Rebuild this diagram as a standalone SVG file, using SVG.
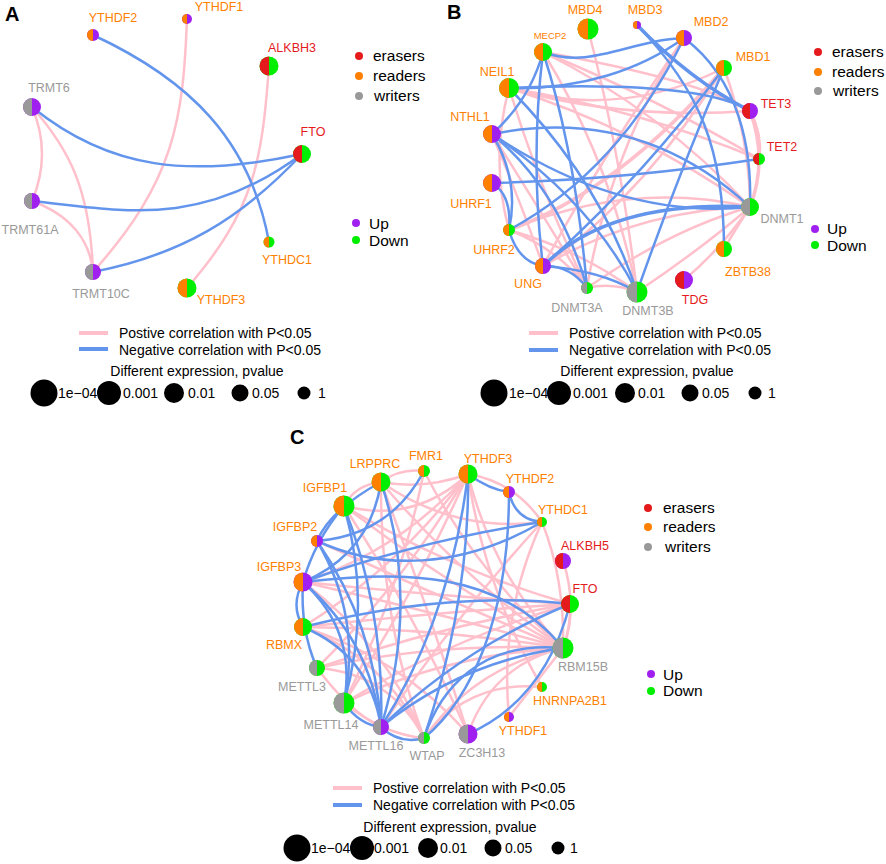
<svg xmlns="http://www.w3.org/2000/svg" width="886" height="864" viewBox="0 0 886 864">
<style>
text{font-family:"Liberation Sans",Arial,sans-serif}
.lb{font-size:12.5px;text-anchor:middle}
.lg{font-size:15.5px;fill:#000}
.ll{font-size:14px;fill:#000}
.pl{font-weight:bold;font-size:20px;fill:#000}
.p{fill:none;stroke:#FFC0CB;stroke-width:2.5}
.n{fill:none;stroke:#6495ED;stroke-width:2.5}
.t{stroke-width:3.5}
.er{fill:#E41A1C}.rd{fill:#FF7F00}.wr{fill:#999999}.up{fill:#A020F0}.dn{fill:#00EE00}
.ter{fill:#E41A1C}.trd{fill:#FF7F00}.twr{fill:#999999}
.bk{fill:#000}
</style>
<rect width="886" height="864" fill="#fff"/>
<text class="pl" x="5" y="21">A</text>
<text class="pl" x="447" y="19">B</text>
<text class="pl" x="290" y="444">C</text>

<!-- ===== Panel A connectors ===== -->
<g id="A-edges">
<path class="p" d="M32,107 Q52,154 32,201"/>
<path class="p" d="M32,107 C70,150 90,190 93,272"/>
<path class="p" d="M32,201 C70,215 90,240 93,272"/>
<path class="p" d="M187,19 C183,120 175,180 93,272"/>
<path class="p" d="M269,66 C262,160 255,210 187,288"/>
<path class="n" d="M93,35 C190,80 250,140 269,242"/>
<path class="n" d="M32,107 C110,170 190,178 302,154"/>
<path class="n" d="M32,201 C120,210 200,230 302,154"/>
<path class="n" d="M93,272 C180,255 240,220 302,154"/>
</g>

<!-- ===== Panel A nodes ===== -->
<g id="A-YTHDF2"><circle cx="93" cy="35" r="6" class="up"/><path class="rd" d="M93,29A6,6 0 0 0 93,41Z"/><text class="lb trd" x="113" y="22">YTHDF2</text></g>
<g id="A-YTHDF1"><circle cx="187" cy="19" r="5" class="up"/><path class="rd" d="M187,14A5,5 0 0 0 187,24Z"/><text class="lb trd" x="219" y="11">YTHDF1</text></g>
<g id="A-ALKBH3"><circle cx="269" cy="66" r="9.5" class="dn"/><path class="er" d="M269,56.5A9.5,9.5 0 0 0 269,75.5Z"/><text class="lb ter" x="292" y="52">ALKBH3</text></g>
<g id="A-TRMT6"><circle cx="32" cy="107" r="9" class="up"/><path class="wr" d="M32,98A9,9 0 0 0 32,116Z"/><text class="lb twr" x="49" y="92">TRMT6</text></g>
<g id="A-FTO"><circle cx="302" cy="154" r="9" class="dn"/><path class="er" d="M302,145A9,9 0 0 0 302,163Z"/><text class="lb ter" x="313" y="136">FTO</text></g>
<g id="A-TRMT61A"><circle cx="32" cy="201" r="8" class="up"/><path class="wr" d="M32,193A8,8 0 0 0 32,209Z"/><text class="lb twr" x="30" y="234">TRMT61A</text></g>
<g id="A-YTHDC1"><circle cx="269" cy="242" r="5.5" class="dn"/><path class="rd" d="M269,236.5A5.5,5.5 0 0 0 269,247.5Z"/><text class="lb trd" x="287" y="264">YTHDC1</text></g>
<g id="A-TRMT10C"><circle cx="93" cy="272" r="8" class="up"/><path class="wr" d="M93,264A8,8 0 0 0 93,280Z"/><text class="lb twr" x="101" y="298">TRMT10C</text></g>
<g id="A-YTHDF3"><circle cx="187" cy="288" r="9.5" class="dn"/><path class="rd" d="M187,278.5A9.5,9.5 0 0 0 187,297.5Z"/><text class="lb trd" x="221" y="304">YTHDF3</text></g>

<!-- ===== Panel A legends ===== -->
<g id="A-legend">
<circle cx="359" cy="56" r="4" class="er"/><text class="lg" x="373" y="61">erasers</text>
<circle cx="359" cy="76" r="4" class="rd"/><text class="lg" x="373" y="81">readers</text>
<circle cx="359" cy="96" r="4" class="wr"/><text class="lg" x="374" y="101">writers</text>
<circle cx="356" cy="223" r="4" class="up"/><text class="lg" x="369" y="229">Up</text>
<circle cx="356" cy="240" r="4" class="dn"/><text class="lg" x="369" y="246">Down</text>
<line x1="79" y1="333" x2="108" y2="333" stroke="#FFC0CB" stroke-width="4"/><text class="ll" x="119" y="338">Postive correlation with P&lt;0.05</text>
<line x1="79" y1="349" x2="108" y2="349" stroke="#6495ED" stroke-width="4"/><text class="ll" x="119" y="355">Negative correlation with P&lt;0.05</text>
<text class="ll" x="197" y="376" text-anchor="middle">Different expression, pvalue</text>
<circle cx="44" cy="393" r="13.5" class="bk"/><text class="ll" x="58" y="398">1e−04</text>
<circle cx="109" cy="393" r="12" class="bk"/><text class="ll" x="123" y="398">0.001</text>
<circle cx="174" cy="393" r="10" class="bk"/><text class="ll" x="188" y="398">0.01</text>
<circle cx="240" cy="393" r="8.5" class="bk"/><text class="ll" x="252" y="398">0.05</text>
<circle cx="304" cy="393" r="6.5" class="bk"/><text class="ll" x="318" y="398">1</text>
</g>

<!-- ===== Panel B connectors ===== -->
<g id="B-edges">
<path class="p" d="M588,29 Q620,150 637,292"/>
<path class="p" d="M543,52 Q660,110 750,207"/>
<path class="p" d="M543,52 Q660,100 759,159"/>
<path class="p" d="M543,52 Q610,160 637,292"/>
<path class="p" d="M509,88 Q620,120 750,111"/>
<path class="p" d="M509,88 Q620,120 724,68"/>
<path class="p" d="M509,88 Q640,130 750,207"/>
<path class="p" d="M509,88 Q540,190 587,288"/>
<path class="p" d="M509,88 Q490,160 509,230"/>
<path class="p" d="M509,88 Q640,110 759,159"/>
<path class="p" d="M492,134 Q520,200 543,266"/>
<path class="p" d="M492,134 Q540,210 587,288"/>
<path class="p" d="M684,38 Q610,150 587,288"/>
<path class="p" d="M684,38 Q600,160 543,266"/>
<path class="p t" d="M724,68 Q620,190 509,230"/>
<path class="p" d="M724,68 Q640,200 543,266"/>
<path class="p" d="M724,68 Q750,140 750,207"/>
<path class="p t" d="M750,111 Q762,135 759,159"/>
<path class="p t" d="M750,111 Q768,160 750,207"/>
<path class="p" d="M750,207 Q630,180 509,230"/>
<path class="p" d="M750,207 Q640,210 543,266"/>
<path class="p" d="M750,207 Q670,230 587,288"/>
<path class="p" d="M750,207 Q700,250 637,292"/>
<path class="p" d="M750,207 Q720,250 684,280"/>
<path class="p" d="M750,207 Q735,230 724,249"/>
<path class="p" d="M587,288 Q612,282 637,292"/>
<path class="p" d="M509,230 Q560,250 587,288"/>
<path class="p" d="M509,230 Q580,250 637,292"/>
<path class="p" d="M543,52 Q700,80 750,111"/>
<path class="n" d="M543,52 C590,70 630,40 684,38"/>
<path class="n" d="M509,88 C580,90 640,70 684,38"/>
<path class="n t" d="M637,25 Q690,80 750,111"/>
<path class="n" d="M637,25 C700,90 724,150 724,249"/>
<path class="n" d="M684,38 C740,80 752,150 750,207"/>
<path class="n" d="M684,38 Q620,170 509,230"/>
<path class="n" d="M724,68 Q680,170 637,292"/>
<path class="n" d="M724,68 Q640,180 543,266"/>
<path class="n" d="M543,52 Q530,100 492,134"/>
<path class="n" d="M543,52 Q575,150 587,288"/>
<path class="n" d="M543,52 Q530,160 543,266"/>
<path class="n" d="M509,88 Q600,180 637,292"/>
<path class="n" d="M492,134 Q640,105 750,207"/>
<path class="n" d="M492,183 Q620,180 759,159"/>
<path class="n" d="M492,134 Q560,190 587,288"/>
<path class="n" d="M492,134 Q520,180 509,230"/>
<path class="n" d="M492,134 Q590,200 637,292"/>
<path class="n" d="M492,134 Q620,220 750,207"/>
<path class="n" d="M492,183 Q512,195 509,230"/>
<path class="n t" d="M543,266 Q610,200 750,207"/>
<path class="n" d="M509,230 Q518,262 543,266"/>
<path class="n" d="M543,266 Q570,265 587,288"/>
<path class="n" d="M543,266 Q600,270 637,292"/>
<path class="n" d="M509,88 Q700,80 750,111"/>
</g>

<!-- ===== Panel B nodes ===== -->
<g id="B-MBD4"><circle cx="588" cy="29" r="10.5" class="dn"/><path class="rd" d="M588,18.5A10.5,10.5 0 0 0 588,39.5Z"/><text class="lb trd" x="585" y="14">MBD4</text></g>
<g id="B-MBD3"><circle cx="637" cy="25" r="4" class="up"/><path class="rd" d="M637,21A4,4 0 0 0 637,29Z"/><text class="lb trd" x="645" y="14">MBD3</text></g>
<g id="B-MBD2"><circle cx="684" cy="38" r="8" class="up"/><path class="rd" d="M684,30A8,8 0 0 0 684,46Z"/><text class="lb trd" x="711" y="26">MBD2</text></g>
<g id="B-MECP2"><circle cx="543" cy="52" r="9" class="dn"/><path class="rd" d="M543,43A9,9 0 0 0 543,61Z"/><text class="lb trd" x="550" y="39" style="font-size:9.5px">MECP2</text></g>
<g id="B-MBD1"><circle cx="724" cy="68" r="8" class="dn"/><path class="rd" d="M724,60A8,8 0 0 0 724,76Z"/><text class="lb trd" x="753" y="61">MBD1</text></g>
<g id="B-NEIL1"><circle cx="509" cy="88" r="10" class="dn"/><path class="rd" d="M509,78A10,10 0 0 0 509,98Z"/><text class="lb trd" x="497" y="76">NEIL1</text></g>
<g id="B-TET3"><circle cx="750" cy="111" r="8" class="up"/><path class="er" d="M750,103A8,8 0 0 0 750,119Z"/><text class="lb ter" x="776" y="108">TET3</text></g>
<g id="B-NTHL1"><circle cx="492" cy="134" r="9" class="up"/><path class="rd" d="M492,125A9,9 0 0 0 492,143Z"/><text class="lb trd" x="470" y="121">NTHL1</text></g>
<g id="B-TET2"><circle cx="759" cy="159" r="6" class="dn"/><path class="er" d="M759,153A6,6 0 0 0 759,165Z"/><text class="lb ter" x="782" y="151">TET2</text></g>
<g id="B-UHRF1"><circle cx="492" cy="183" r="9" class="up"/><path class="rd" d="M492,174A9,9 0 0 0 492,192Z"/><text class="lb trd" x="471" y="208">UHRF1</text></g>
<g id="B-DNMT1"><circle cx="750" cy="207" r="9" class="dn"/><path class="wr" d="M750,198A9,9 0 0 0 750,216Z"/><text class="lb twr" x="782" y="223">DNMT1</text></g>
<g id="B-UHRF2"><circle cx="509" cy="230" r="6" class="dn"/><path class="rd" d="M509,224A6,6 0 0 0 509,236Z"/><text class="lb trd" x="494" y="254">UHRF2</text></g>
<g id="B-ZBTB38"><circle cx="724" cy="249" r="8" class="dn"/><path class="rd" d="M724,241A8,8 0 0 0 724,257Z"/><text class="lb trd" x="748" y="276">ZBTB38</text></g>
<g id="B-UNG"><circle cx="543" cy="266" r="8" class="up"/><path class="rd" d="M543,258A8,8 0 0 0 543,274Z"/><text class="lb trd" x="528" y="288">UNG</text></g>
<g id="B-TDG"><circle cx="684" cy="280" r="9" class="up"/><path class="er" d="M684,271A9,9 0 0 0 684,289Z"/><text class="lb ter" x="695" y="304">TDG</text></g>
<g id="B-DNMT3A"><circle cx="587" cy="288" r="6" class="dn"/><path class="wr" d="M587,282A6,6 0 0 0 587,294Z"/><text class="lb twr" x="577" y="312">DNMT3A</text></g>
<g id="B-DNMT3B"><circle cx="637" cy="292" r="10.5" class="dn"/><path class="wr" d="M637,281.5A10.5,10.5 0 0 0 637,302.5Z"/><text class="lb twr" x="648" y="315">DNMT3B</text></g>

<!-- ===== Panel B legends ===== -->
<g id="B-legend">
<circle cx="818" cy="52" r="4" class="er"/><text class="lg" x="832" y="57">erasers</text>
<circle cx="818" cy="72" r="4" class="rd"/><text class="lg" x="832" y="77">readers</text>
<circle cx="818" cy="91" r="4" class="wr"/><text class="lg" x="833" y="96">writers</text>
<circle cx="815" cy="229" r="4" class="up"/><text class="lg" x="827" y="234">Up</text>
<circle cx="815" cy="245" r="4" class="dn"/><text class="lg" x="827" y="251">Down</text>
<line x1="529" y1="333" x2="558" y2="333" stroke="#FFC0CB" stroke-width="4"/><text class="ll" x="569" y="338">Postive correlation with P&lt;0.05</text>
<line x1="529" y1="350" x2="558" y2="350" stroke="#6495ED" stroke-width="4"/><text class="ll" x="569" y="355">Negative correlation with P&lt;0.05</text>
<text class="ll" x="647" y="376" text-anchor="middle">Different expression, pvalue</text>
<circle cx="494" cy="393" r="13.5" class="bk"/><text class="ll" x="509" y="398">1e−04</text>
<circle cx="559" cy="393" r="12" class="bk"/><text class="ll" x="573" y="398">0.001</text>
<circle cx="625" cy="393" r="10" class="bk"/><text class="ll" x="638" y="398">0.01</text>
<circle cx="690" cy="393" r="8.5" class="bk"/><text class="ll" x="702" y="398">0.05</text>
<circle cx="755" cy="393" r="6.5" class="bk"/><text class="ll" x="768" y="398">1</text>
</g>

<!-- ===== Panel C connectors ===== -->
<g id="C-edges">
<path class="p" d="M381,482 Q400,468 424,471"/>
<path class="p" d="M381,482 Q425,490 468,474"/>
<path class="p" d="M344,506 Q355,485 381,482"/>
<path class="p" d="M344,506 Q415,524 468,474"/>
<path class="p" d="M468,474 Q515,482 542,522"/>
<path class="p" d="M381,482 Q454,533 542,522"/>
<path class="p" d="M468,474 Q400,566 303,627"/>
<path class="p" d="M468,474 Q405,581 317,668"/>
<path class="p" d="M468,474 Q415,593 344,703"/>
<path class="p" d="M468,474 Q400,551 303,582"/>
<path class="p" d="M468,474 Q492,574 563,648"/>
<path class="p" d="M468,474 Q484,588 542,687"/>
<path class="p" d="M424,471 Q476,573 563,648"/>
<path class="p" d="M424,471 Q400,592 344,703"/>
<path class="p" d="M344,506 Q448,585 563,648"/>
<path class="p" d="M344,506 Q451,570 570,604"/>
<path class="p" d="M317,541 Q439,597 563,648"/>
<path class="p" d="M381,482 Q461,577 563,648"/>
<path class="p" d="M381,482 Q428,607 468,734"/>
<path class="p" d="M542,522 Q565,580 563,648"/>
<path class="p" d="M542,522 Q499,615 509,717"/>
<path class="p" d="M542,522 Q454,618 381,727"/>
<path class="p" d="M563,561 Q578,605 563,648"/>
<path class="p" d="M570,604 Q572,626 563,648"/>
<path class="p" d="M570,604 Q436,612 303,627"/>
<path class="p" d="M570,604 Q441,626 317,668"/>
<path class="p" d="M563,648 Q439,642 317,668"/>
<path class="p" d="M563,648 Q448,654 344,703"/>
<path class="p" d="M563,648 Q476,666 424,738"/>
<path class="p" d="M563,648 Q434,628 303,627"/>
<path class="p" d="M563,648 Q434,612 303,582"/>
<path class="p" d="M563,648 Q530,690 509,717"/>
<path class="p" d="M563,648 Q492,665 468,734"/>
<path class="p" d="M303,627 Q385,659 424,738"/>
<path class="p" d="M303,627 Q401,658 468,734"/>
<path class="p" d="M303,582 Q385,643 424,738"/>
<path class="p" d="M317,668 Q390,673 424,738"/>
<path class="p" d="M344,703 Q385,735 424,738"/>
<path class="p" d="M303,582 Q436,596 570,604"/>
<path class="p" d="M344,506 Q415,615 468,734"/>
<path class="p" d="M542,687 Q469,680 424,738"/>
<path class="p" d="M344,703 Q451,639 570,604"/>
<path class="p" d="M317,668 Q350,712 381,727"/>
<path class="p" d="M381,482 Q380,620 424,738"/>
<path class="n" d="M424,471 Q390,535 317,541"/>
<path class="n" d="M468,474 Q490,490 509,492"/>
<path class="n" d="M509,492 Q515,520 542,522"/>
<path class="n" d="M509,492 C509,620 470,700 424,738"/>
<path class="n" d="M468,474 Q450,620 381,727"/>
<path class="n" d="M317,541 C380,570 460,570 542,522"/>
<path class="n" d="M303,582 Q420,540 542,522"/>
<path class="n" d="M303,582 C400,570 500,570 563,648"/>
<path class="n" d="M303,627 Q450,590 570,604"/>
<path class="n" d="M381,482 Q420,600 381,727"/>
<path class="n" d="M381,482 Q370,554 303,582"/>
<path class="n" d="M344,506 Q385,613 381,727"/>
<path class="n" d="M344,506 Q315,540 303,582"/>
<path class="n" d="M344,506 Q372,604 344,703"/>
<path class="n" d="M317,541 Q362,617 344,703"/>
<path class="n" d="M317,541 Q375,625 381,727"/>
<path class="n" d="M303,582 Q300,630 317,668"/>
<path class="n" d="M303,582 Q357,631 344,703"/>
<path class="n" d="M303,582 Q370,639 381,727"/>
<path class="n" d="M344,703 Q360,725 381,727"/>
<path class="n" d="M381,727 Q400,745 424,738"/>
<path class="n" d="M424,738 C440,690 480,640 563,648"/>
<path class="n" d="M381,727 Q461,662 563,648"/>
<path class="n" d="M468,734 Q545,700 570,604"/>
<path class="n" d="M381,727 Q464,647 570,604"/>
<path class="n" d="M468,474 Q470,600 424,738"/>
<path class="n" d="M303,627 Q370,655 381,727"/>
<path class="n" d="M381,482 Q330,510 317,541"/>
<path class="n" d="M303,582 Q290,605 303,627"/>
</g>

<!-- ===== Panel C nodes ===== -->
<g id="C-LRPPRC"><circle cx="381" cy="482" r="9.5" class="dn"/><path class="rd" d="M381,472.5A9.5,9.5 0 0 0 381,491.5Z"/><text class="lb trd" x="375" y="468">LRPPRC</text></g>
<g id="C-FMR1"><circle cx="424" cy="471" r="6" class="dn"/><path class="rd" d="M424,465A6,6 0 0 0 424,477Z"/><text class="lb trd" x="426" y="460">FMR1</text></g>
<g id="C-YTHDF3"><circle cx="468" cy="474" r="9.5" class="dn"/><path class="rd" d="M468,464.5A9.5,9.5 0 0 0 468,483.5Z"/><text class="lb trd" x="488" y="463">YTHDF3</text></g>
<g id="C-YTHDF2"><circle cx="509" cy="492" r="6" class="up"/><path class="rd" d="M509,486A6,6 0 0 0 509,498Z"/><text class="lb trd" x="530" y="483">YTHDF2</text></g>
<g id="C-YTHDC1"><circle cx="542" cy="522" r="5" class="dn"/><path class="rd" d="M542,517A5,5 0 0 0 542,527Z"/><text class="lb trd" x="563" y="514">YTHDC1</text></g>
<g id="C-IGFBP1"><circle cx="344" cy="506" r="10.5" class="dn"/><path class="rd" d="M344,495.5A10.5,10.5 0 0 0 344,516.5Z"/><text class="lb trd" x="325" y="492">IGFBP1</text></g>
<g id="C-IGFBP2"><circle cx="317" cy="541" r="6" class="up"/><path class="rd" d="M317,535A6,6 0 0 0 317,547Z"/><text class="lb trd" x="295" y="531">IGFBP2</text></g>
<g id="C-ALKBH5"><circle cx="563" cy="561" r="8" class="up"/><path class="er" d="M563,553A8,8 0 0 0 563,569Z"/><text class="lb ter" x="585" y="550">ALKBH5</text></g>
<g id="C-IGFBP3"><circle cx="303" cy="582" r="9.5" class="up"/><path class="rd" d="M303,572.5A9.5,9.5 0 0 0 303,591.5Z"/><text class="lb trd" x="279" y="571">IGFBP3</text></g>
<g id="C-FTO"><circle cx="570" cy="604" r="9" class="dn"/><path class="er" d="M570,595A9,9 0 0 0 570,613Z"/><text class="lb ter" x="585" y="593">FTO</text></g>
<g id="C-RBMX"><circle cx="303" cy="627" r="9" class="dn"/><path class="rd" d="M303,618A9,9 0 0 0 303,636Z"/><text class="lb trd" x="284" y="649">RBMX</text></g>
<g id="C-RBM15B"><circle cx="563" cy="648" r="10.5" class="dn"/><path class="wr" d="M563,637.5A10.5,10.5 0 0 0 563,658.5Z"/><text class="lb twr" x="583" y="671">RBM15B</text></g>
<g id="C-METTL3"><circle cx="317" cy="668" r="8" class="dn"/><path class="wr" d="M317,660A8,8 0 0 0 317,676Z"/><text class="lb twr" x="302" y="691">METTL3</text></g>
<g id="C-HNRNPA2B1"><circle cx="542" cy="687" r="5" class="dn"/><path class="rd" d="M542,682A5,5 0 0 0 542,692Z"/><text class="lb trd" x="570" y="705">HNRNPA2B1</text></g>
<g id="C-METTL14"><circle cx="344" cy="703" r="10.5" class="dn"/><path class="wr" d="M344,692.5A10.5,10.5 0 0 0 344,713.5Z"/><text class="lb twr" x="331" y="729">METTL14</text></g>
<g id="C-YTHDF1"><circle cx="509" cy="717" r="5" class="up"/><path class="rd" d="M509,712A5,5 0 0 0 509,722Z"/><text class="lb trd" x="523" y="735">YTHDF1</text></g>
<g id="C-METTL16"><circle cx="381" cy="727" r="8" class="up"/><path class="wr" d="M381,719A8,8 0 0 0 381,735Z"/><text class="lb twr" x="376" y="750">METTL16</text></g>
<g id="C-ZC3H13"><circle cx="468" cy="734" r="9.5" class="up"/><path class="wr" d="M468,724.5A9.5,9.5 0 0 0 468,743.5Z"/><text class="lb twr" x="482" y="757">ZC3H13</text></g>
<g id="C-WTAP"><circle cx="424" cy="738" r="6" class="dn"/><path class="wr" d="M424,732A6,6 0 0 0 424,744Z"/><text class="lb twr" x="427" y="760">WTAP</text></g>

<!-- ===== Panel C legends ===== -->
<g id="C-legend">
<circle cx="648" cy="508" r="4" class="er"/><text class="lg" x="663" y="513">erasers</text>
<circle cx="648" cy="527" r="4" class="rd"/><text class="lg" x="663" y="532">readers</text>
<circle cx="648" cy="547" r="4" class="wr"/><text class="lg" x="665" y="552">writers</text>
<circle cx="651" cy="674" r="4" class="up"/><text class="lg" x="663" y="680">Up</text>
<circle cx="651" cy="691" r="4" class="dn"/><text class="lg" x="663" y="696">Down</text>
<line x1="333" y1="788" x2="362" y2="788" stroke="#FFC0CB" stroke-width="4"/><text class="ll" x="373" y="793">Postive correlation with P&lt;0.05</text>
<line x1="333" y1="805" x2="362" y2="805" stroke="#6495ED" stroke-width="4"/><text class="ll" x="373" y="810">Negative correlation with P&lt;0.05</text>
<text class="ll" x="450" y="832" text-anchor="middle">Different expression, pvalue</text>
<circle cx="297" cy="848" r="13.5" class="bk"/><text class="ll" x="311" y="853">1e−04</text>
<circle cx="362" cy="848" r="12" class="bk"/><text class="ll" x="374" y="853">0.001</text>
<circle cx="428" cy="848" r="10" class="bk"/><text class="ll" x="440" y="853">0.01</text>
<circle cx="493" cy="848" r="8.5" class="bk"/><text class="ll" x="505" y="853">0.05</text>
<circle cx="558" cy="848" r="6.5" class="bk"/><text class="ll" x="570" y="853">1</text>
</g>
</svg>
